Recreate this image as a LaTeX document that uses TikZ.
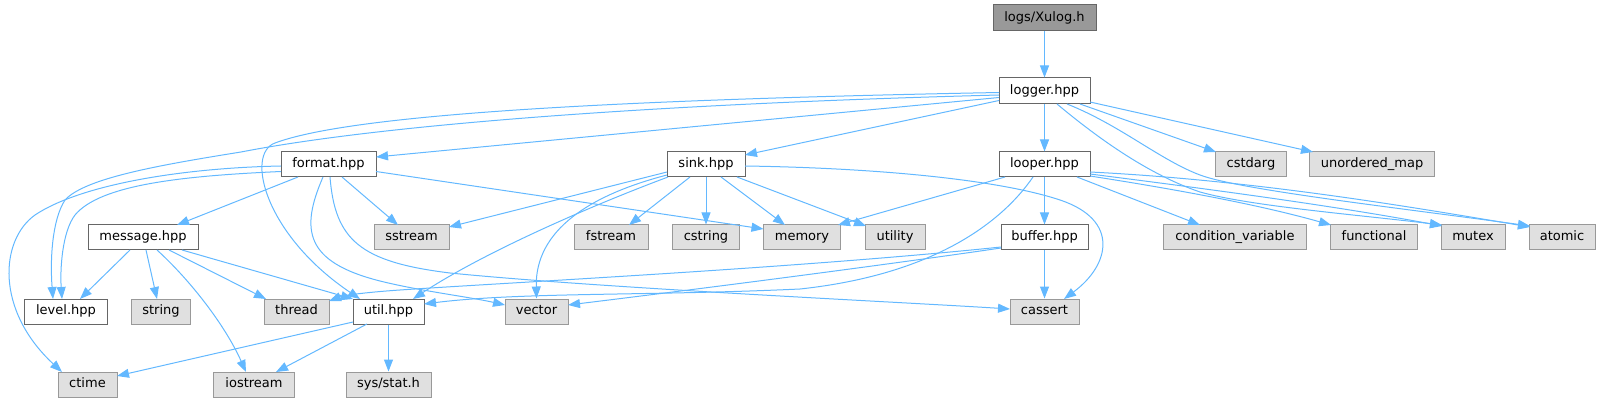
\documentclass[tikz,border=0pt]{standalone}
\usepackage{fontspec}
\setmainfont{DejaVu Sans}
\usetikzlibrary{arrows.meta}
\definecolor{edgec}{HTML}{63B8FF}
\definecolor{intb}{HTML}{666666}
\definecolor{extb}{HTML}{999999}
\definecolor{extf}{HTML}{E0E0E0}
\definecolor{rootf}{HTML}{999999}
\begin{document}
\begin{tikzpicture}[x=1pt,y=-1pt,
 box/.style={rectangle,minimum height=25pt,inner sep=0pt,line width=1pt,font=\fontsize{13}{15}\selectfont,text height=9.5pt,text depth=2.8pt},
 intn/.style={box,draw=intb,fill=white},
 extn/.style={box,draw=extb,fill=extf},
 rootn/.style={box,draw=intb,fill=rootf,minimum height=26pt},
 edge/.style={draw=edgec,line width=1pt,-{Triangle[length=12pt,width=9pt]}},
]
\useasboundingbox (0,0) rectangle (1602,403);
% row 0,1
\node[rootn,minimum width=103pt] (xulog) at (1044.5,18) {logs/Xulog.h};
\node[intn,minimum width=91pt,minimum height=26pt] (logger) at (1044.5,91) {logger.hpp};
% row 2
\node[intn,minimum width=95pt] (format) at (328.5,164.5) {format.hpp};
\node[intn,minimum width=78pt] (sink) at (706,164.5) {sink.hpp};
\node[intn,minimum width=91pt] (looper) at (1044.5,164.5) {looper.hpp};
\node[extn,minimum width=71pt] (cstdarg) at (1251,164.5) {cstdarg};
\node[extn,minimum width=125pt] (umap) at (1372,164.5) {unordered\_map};
% row 3
\node[intn,minimum width=110pt] (message) at (143,237.5) {message.hpp};
\node[extn,minimum width=75pt] (sstream) at (411.5,237.5) {sstream};
\node[extn,minimum width=74pt] (fstream) at (611,237.5) {fstream};
\node[extn,minimum width=67pt] (cstring) at (706,237.5) {cstring};
\node[extn,minimum width=77pt] (memory) at (802,237.5) {memory};
\node[extn,minimum width=60pt] (utility) at (895,237.5) {utility};
\node[intn,minimum width=87pt] (buffer) at (1044.5,237.5) {buffer.hpp};
\node[extn,minimum width=143pt] (condvar) at (1235,237.5) {condition\_variable};
\node[extn,minimum width=87pt] (functional) at (1374,237.5) {functional};
\node[extn,minimum width=64pt] (mutex) at (1473,237.5) {mutex};
\node[extn,minimum width=66pt] (atomic) at (1562,237.5) {atomic};
% row 4
\node[intn,minimum width=83pt] (level) at (66,311.5) {level.hpp};
\node[extn,minimum width=59pt] (string) at (161,311.5) {string};
\node[extn,minimum width=65pt] (thread) at (296.5,311.5) {thread};
\node[intn,minimum width=71pt] (util) at (388.5,311.5) {util.hpp};
\node[extn,minimum width=63pt] (vector) at (536.5,311.5) {vector};
\node[extn,minimum width=69pt] (cassert) at (1044.5,311.5) {cassert};
% row 5
\node[extn,minimum width=59pt] (ctime) at (87.5,384.5) {ctime};
\node[extn,minimum width=81pt] (iostream) at (254,384.5) {iostream};
\node[extn,minimum width=85pt] (sysstat) at (388.5,384.5) {sys/stat.h};

% Xulog
\draw[edge] (xulog.south) -- (logger.north);
% logger
\draw[edge] ([shift={(-45.5,1.5)}]logger.center) .. controls (600,100) and (350,115) .. (275,143) .. controls (245,154) and (265,235) .. ([shift={(-28.5,-12.5)}]util.center);
\draw[edge] ([shift={(-45.5,4)}]logger.center) .. controls (650,104) and (380,125) .. (241,152) .. controls (160,165) and (85,178) .. (65,200) .. controls (52,220) and (50,260) .. ([shift={(-13,-12.5)}]level.center);
\draw[edge] ([shift={(-45.5,6.5)}]logger.center) -- ([shift={(47.5,-7.5)}]format.center);
\draw[edge] ([shift={(-45.5,9.5)}]logger.center) -- ([shift={(39,-9.5)}]sink.center);
\draw[edge] (logger.south) -- (looper.north);
\draw[edge] ([shift={(35.5,13)}]logger.center) -- ([shift={(-35,-12.5)}]cstdarg.center);
\draw[edge] ([shift={(45.5,11)}]logger.center) -- ([shift={(-59,-12.5)}]umap.center);
\draw[edge] ([shift={(12.5,13)}]logger.center) .. controls (1100,140) and (1150,175) .. (1200,192) .. controls (1250,206) and (1350,214) .. ([shift={(-31,-12.5)}]mutex.center);
\draw[edge] ([shift={(22.5,13)}]logger.center) .. controls (1120,125) and (1160,160) .. (1200,175) .. controls (1240,190) and (1400,208) .. ([shift={(-32,-11.5)}]atomic.center);
% looper
\draw[edge] (looper.south) -- (buffer.north);
\draw[edge] ([shift={(-39.5,12.5)}]looper.center) -- ([shift={(36,-12.5)}]memory.center);
\draw[edge] ([shift={(-11.5,12.5)}]looper.center) .. controls (1000,225) and (930,275) .. (800,289) .. controls (650,296) and (520,292) .. ([shift={(35.5,-7.5)}]util.center);
\draw[edge] ([shift={(32.5,12.5)}]looper.center) -- ([shift={(-35,-12.5)}]condvar.center);
\draw[edge] ([shift={(45.5,11.5)}]looper.center) .. controls (1180,190) and (1260,205) .. ([shift={(-43,-12.5)}]functional.center);
\draw[edge] ([shift={(45.5,9.5)}]looper.center) .. controls (1200,188) and (1330,205) .. ([shift={(-31,-11.5)}]mutex.center);
\draw[edge] ([shift={(45.5,7.5)}]looper.center) .. controls (1250,180) and (1400,205) .. ([shift={(-32,-10.5)}]atomic.center);
% format
\draw[edge] ([shift={(-30.5,12.5)}]format.center) -- ([shift={(34,-12.5)}]message.center);
\draw[edge] ([shift={(13.5,12.5)}]format.center) -- ([shift={(-13.5,-12.5)}]sstream.center);
\draw[edge] ([shift={(47.5,7)}]format.center) -- ([shift={(-38.5,-8.5)}]memory.center);
\draw[edge] ([shift={(-5.5,12.5)}]format.center) .. controls (300,230) and (305,262) .. (380,281) .. controls (420,291) and (470,297) .. ([shift={(-31.5,-6.5)}]vector.center);
\draw[edge] ([shift={(1.5,12.5)}]format.center) .. controls (335,240) and (360,262) .. (450,273) .. controls (600,288) and (900,302) .. ([shift={(-34.5,-2.5)}]cassert.center);
\draw[edge] ([shift={(-47.5,7)}]format.center) .. controls (180,176) and (100,185) .. (75,215) .. controls (62,232) and (60,270) .. ([shift={(-4,-12.5)}]level.center);
\draw[edge] ([shift={(-47.5,1.5)}]format.center) .. controls (180,168) and (80,185) .. (35,215) .. controls (0,240) and (-5,310) .. ([shift={(-25.5,-12.5)}]ctime.center);
% message
\draw[edge] ([shift={(-13,12.5)}]message.center) -- ([shift={(14,-12.5)}]level.center);
\draw[edge] ([shift={(3,12.5)}]message.center) -- ([shift={(-4,-12.5)}]string.center);
\draw[edge] ([shift={(14,12.5)}]message.center) .. controls (190,280) and (225,325) .. ([shift={(-8,-12.5)}]iostream.center);
\draw[edge] ([shift={(26,12.5)}]message.center) -- ([shift={(-30.5,-12.5)}]thread.center);
\draw[edge] ([shift={(39,12.5)}]message.center) -- ([shift={(-35.5,-12.5)}]util.center);
% util
\draw[edge] ([shift={(-35.5,10.5)}]util.center) -- ([shift={(29.5,-8.5)}]ctime.center);
\draw[edge] ([shift={(-21.5,12.5)}]util.center) -- ([shift={(22,-12.5)}]iostream.center);
\draw[edge] (util.south) -- (sysstat.north);
% sink
\draw[edge] ([shift={(-39,7.5)}]sink.center) -- ([shift={(37.5,-10.5)}]sstream.center);
\draw[edge] ([shift={(-38,12.5)}]sink.center) .. controls (580,210) and (480,255) .. ([shift={(24.5,-12.5)}]util.center);
\draw[edge] ([shift={(-39,10.5)}]sink.center) .. controls (590,195) and (535,230) .. (vector.north);
\draw[edge] ([shift={(-16,12.5)}]sink.center) -- ([shift={(18,-12.5)}]fstream.center);
\draw[edge] (sink.south) -- (cstring.north);
\draw[edge] ([shift={(15,12.5)}]sink.center) -- ([shift={(-17,-12.5)}]memory.center);
\draw[edge] ([shift={(31,12.5)}]sink.center) -- ([shift={(-29,-11.5)}]utility.center);
\draw[edge] ([shift={(39,1.5)}]sink.center) .. controls (880,168) and (1000,180) .. (1060,200) .. controls (1120,220) and (1110,265) .. ([shift={(19.5,-12.5)}]cassert.center);
% buffer
\draw[edge] ([shift={(-43.5,9.5)}]buffer.center) .. controls (800,268) and (500,283) .. (400,290) .. controls (370,292) and (345,295) .. ([shift={(32.5,-10.5)}]thread.center);
\draw[edge] ([shift={(-43.5,10.5)}]buffer.center) .. controls (850,270) and (650,295) .. ([shift={(31.5,-6.5)}]vector.center);
\draw[edge] (buffer.south) -- (cassert.north);
\end{tikzpicture}
\end{document}
